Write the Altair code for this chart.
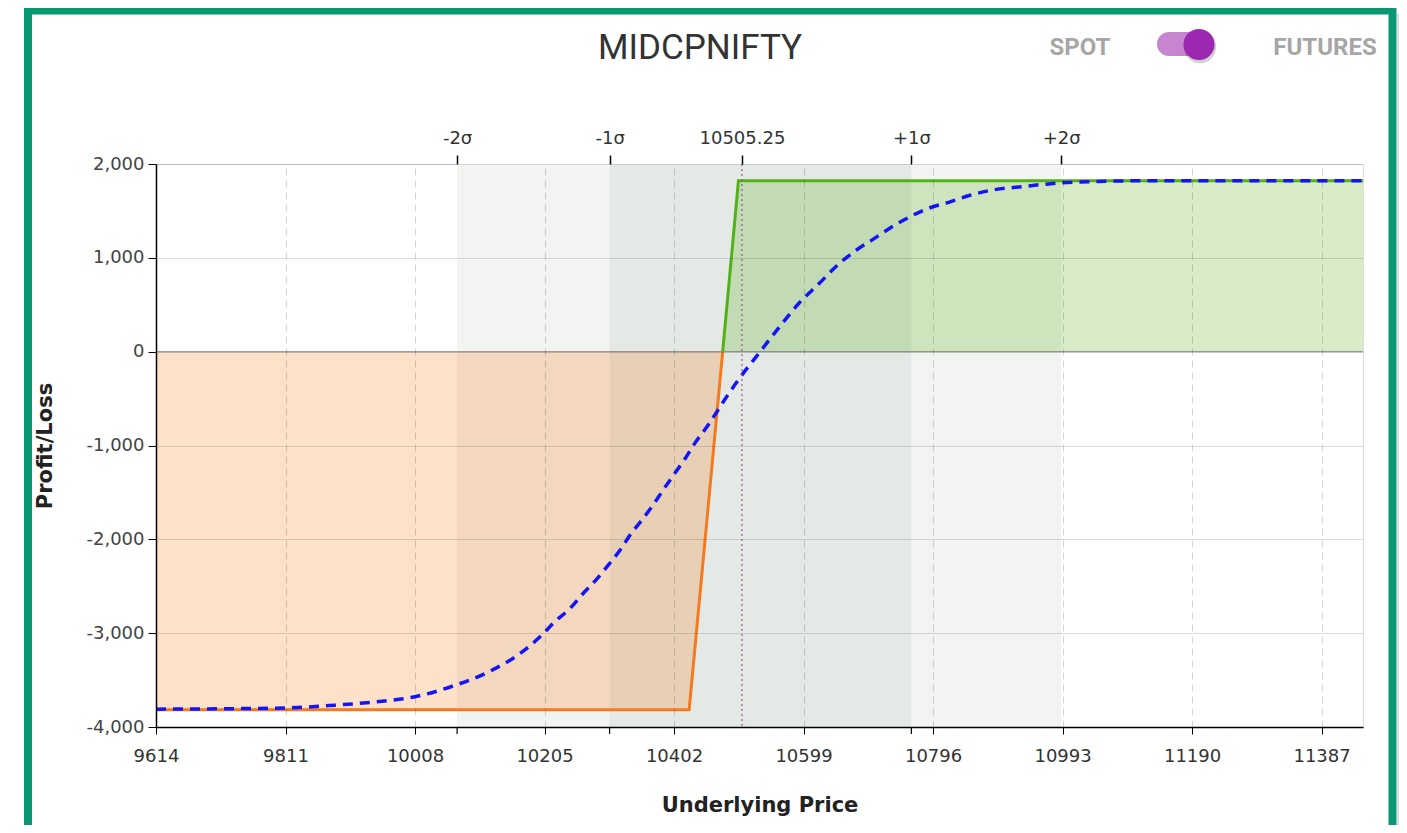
import altair as alt
import pandas as pd

# ---------------- data ----------------
x_ticks = [9614, 9811, 10008, 10205, 10402, 10599, 10796, 10993, 11190, 11387]
y_ticks = [-4000, -3000, -2000, -1000, 0, 1000, 2000]

sigma_values = [10072, 10304, 10505.25, 10763, 10991]
sigma_labels = ["-2σ", "-1σ", "10505.25", "+1σ", "+2σ"]
spot_price = 10505.25
sigma_only = [10072, 10304, 10763]

band_start = [10072, 10304]
band_end = [10991, 10763]
band_color = ["#f2f4f2", "#e4e9e6"]

# payoff at expiry
loss_x = [9614, 10425, 10476]
loss_y = [-3815, -3815, 0]
profit_x = [10476, 10500, 11450]
profit_y = [0, 1822, 1822]

# T+0 curve
t0_x = [9614, 9811, 9887, 9958, 10006, 10067, 10120, 10169, 10201, 10221,
        10244, 10264, 10284, 10302, 10320, 10335, 10353, 10370, 10386, 10403,
        10419, 10434, 10452, 10466, 10482, 10502, 10533, 10563, 10592, 10623,
        10648, 10679, 10704, 10729, 10760, 10790, 10821, 10851, 10882, 10933,
        10983, 11034, 11085, 11186, 11450]
t0_y = [-3810, -3797, -3767, -3725, -3680, -3560, -3412, -3210, -3020, -2876,
        -2735, -2575, -2426, -2274, -2114, -1955, -1795, -1635, -1468, -1298,
        -1138, -972, -801, -653, -480, -280, 0, 270, 516, 728,
        905, 1081, 1194, 1311, 1435, 1530, 1594, 1664, 1717, 1760,
        1795, 1812, 1820, 1822, 1822]

X_MIN, X_MAX = 9614, 11450
W, H = 1207, 563

xscale = alt.Scale(domain=[X_MIN, X_MAX], nice=False, zero=False)
yscale = alt.Scale(domain=[-4000, 2000], nice=False, zero=False)

FONT = "DejaVu Sans"
LBL = 18
TTL = 21

# top axis label expression
expr = ""
for v, l in zip(sigma_values, sigma_labels):
    expr += f"datum.value == {v} ? '{l}' : "
expr += "''"

bottom_axis = alt.Axis(
    values=x_ticks, format="d", grid=True, gridDash=[7, 5], gridColor="#000",
    gridOpacity=0.17, tickSize=7, tickColor="#000", domainColor="#000",
    domainWidth=1.5, labelFont=FONT, labelFontSize=LBL, labelColor="#333",
    labelPadding=13, labelFlush=False, labelOverlap=False,
    title="Underlying Price", titleFont=FONT, titleFontSize=TTL,
    titleFontWeight="bold", titleColor="#222", titleY=78,
    titleBaseline="middle", zindex=1,
)
left_axis = alt.Axis(
    values=y_ticks, labelExpr="replace(format(datum.value, ',.0f'), '−', '-')",
    grid=True, gridColor="#000", gridOpacity=0.13,
    tickSize=8, tickColor="#000", domainColor="#000", domainWidth=1.5,
    labelFont=FONT, labelFontSize=LBL, labelColor="#444", labelPadding=4,
    labelFlush=False, labelOverlap=False,
    title="Profit/Loss", titleFont=FONT, titleFontSize=TTL,
    titleFontWeight="bold", titleColor="#222", titleX=-111, titleY=H / 2,
    titleBaseline="middle", titleAngle=-90, zindex=1,
)
top_axis = alt.Axis(
    orient="top", values=sigma_values, labelExpr=expr, grid=False,
    domain=False, tickSize=9, tickColor="#000", tickWidth=1.5,
    labelFont=FONT, labelFontSize=LBL, labelColor="#333", labelPadding=8,
    labelFlush=False, labelOverlap=False, title=None, zindex=1,
)

bands_df = pd.DataFrame({"start": band_start, "end": band_end, "color": band_color})
loss_df = pd.DataFrame({"x": loss_x, "y": loss_y})
profit_df = pd.DataFrame({"x": profit_x, "y": profit_y})
t0_df = pd.DataFrame({"x": t0_x, "y": t0_y})
spot_df = pd.DataFrame({"v": [spot_price]})
sig_df = pd.DataFrame({"v": sigma_only})
zero_df = pd.DataFrame({"v": [0]})

bands = alt.Chart(bands_df).mark_rect().encode(
    x=alt.X("start:Q", scale=xscale, axis=bottom_axis),
    x2="end:Q",
    y=alt.value(0),
    y2=alt.value(H),
    color=alt.Color("color:N", scale=None),
)

zero_rule = alt.Chart(zero_df).mark_rule(
    color="#555", opacity=0.55, strokeWidth=1.3
).encode(y=alt.Y("v:Q", scale=yscale, axis=left_axis))

loss_area = alt.Chart(loss_df).mark_area(color="#f5821f", opacity=0.24).encode(
    x=alt.X("x:Q", scale=xscale, axis=None),
    y=alt.Y("y:Q", scale=yscale, axis=None),
    y2=alt.datum(0),
)
profit_area = alt.Chart(profit_df).mark_area(color="#64b428", opacity=0.26).encode(
    x=alt.X("x:Q", scale=xscale, axis=None),
    y=alt.Y("y:Q", scale=yscale, axis=None),
    y2=alt.datum(0),
)
loss_line = alt.Chart(loss_df).mark_line(color="#f47a20", strokeWidth=3).encode(
    x=alt.X("x:Q", scale=xscale, axis=None),
    y=alt.Y("y:Q", scale=yscale, axis=None),
)
profit_line = alt.Chart(profit_df).mark_line(color="#52b116", strokeWidth=3).encode(
    x=alt.X("x:Q", scale=xscale, axis=None),
    y=alt.Y("y:Q", scale=yscale, axis=None),
)
t0_line = alt.Chart(t0_df).mark_line(
    color="#1414f5", strokeWidth=3.5, strokeDash=[10, 7], interpolate="monotone"
).encode(
    x=alt.X("x:Q", scale=xscale, axis=None),
    y=alt.Y("y:Q", scale=yscale, axis=None),
)
spot_rule = alt.Chart(spot_df).mark_rule(
    color="#a0509a", strokeDash=[2, 3], strokeWidth=1.2
).encode(x=alt.X("v:Q", scale=xscale, axis=top_axis))
sig_ticks = alt.Chart(sig_df).mark_rule(color="#000", strokeWidth=1.2).encode(
    x=alt.X("v:Q", scale=xscale, axis=None),
    y=alt.value(H),
    y2=alt.value(H + 7),
)

# ---------------- decorations ----------------
one = pd.DataFrame({"t": ["MIDCPNIFTY"]})
title = alt.Chart(one).mark_text(
    font="Roboto", fontSize=35, color="#333", align="center", baseline="middle"
).encode(x=alt.value(544), y=alt.value(-116), text="t:N")
spot_txt = alt.Chart(pd.DataFrame({"t": ["SPOT"]})).mark_text(
    font="Roboto", fontSize=24, fontWeight="bold", color="#a6a6a6",
    align="center", baseline="middle",
).encode(x=alt.value(924), y=alt.value(-116), text="t:N")
fut_txt = alt.Chart(pd.DataFrame({"t": ["FUTURES"]})).mark_text(
    font="Roboto", fontSize=24, fontWeight="bold", color="#a6a6a6",
    align="center", baseline="middle",
).encode(x=alt.value(1169), y=alt.value(-116), text="t:N")
track = alt.Chart(one).mark_rule(
    color="#c785d0", strokeWidth=24, strokeCap="round"
).encode(x=alt.value(1013), x2=alt.value(1043), y=alt.value(-120))
knob_shadow = alt.Chart(one).mark_point(
    filled=True, shape="circle", size=1050, color="#000", opacity=0.18
).encode(x=alt.value(1044), y=alt.value(-117))
knob = alt.Chart(one).mark_point(
    filled=True, shape="circle", size=960, color="#9c27b0", opacity=1
).encode(x=alt.value(1043), y=alt.value(-119.5))
frame = alt.Chart(one).mark_rect(
    fill="#fff", fillOpacity=0, stroke="#0a9874", strokeWidth=8
).encode(
    x=alt.value(-128), x2=alt.value(1236.5), y=alt.value(-153.5), y2=alt.value(720)
)
shadow = alt.Chart(one).mark_rule(color="#999", opacity=0.35, strokeWidth=2).encode(
    x=alt.value(1242), y=alt.value(-150), y2=alt.value(700)
)

chart = alt.layer(
    bands, loss_area, profit_area, zero_rule, loss_line, profit_line,
    t0_line, spot_rule, sig_ticks,
    title, spot_txt, fut_txt, track, knob_shadow, knob, shadow, frame,
).resolve_axis(x="independent", y="independent").properties(
    width=W, height=H,
    autosize=alt.AutoSizeParams(type="none"),
    padding={"left": 148, "top": 156, "right": 36, "bottom": 98},
).configure_view(stroke=None).configure(background="#ffffff")

chart.save("out.html", embed_options={"renderer": "svg", "actions": False})
